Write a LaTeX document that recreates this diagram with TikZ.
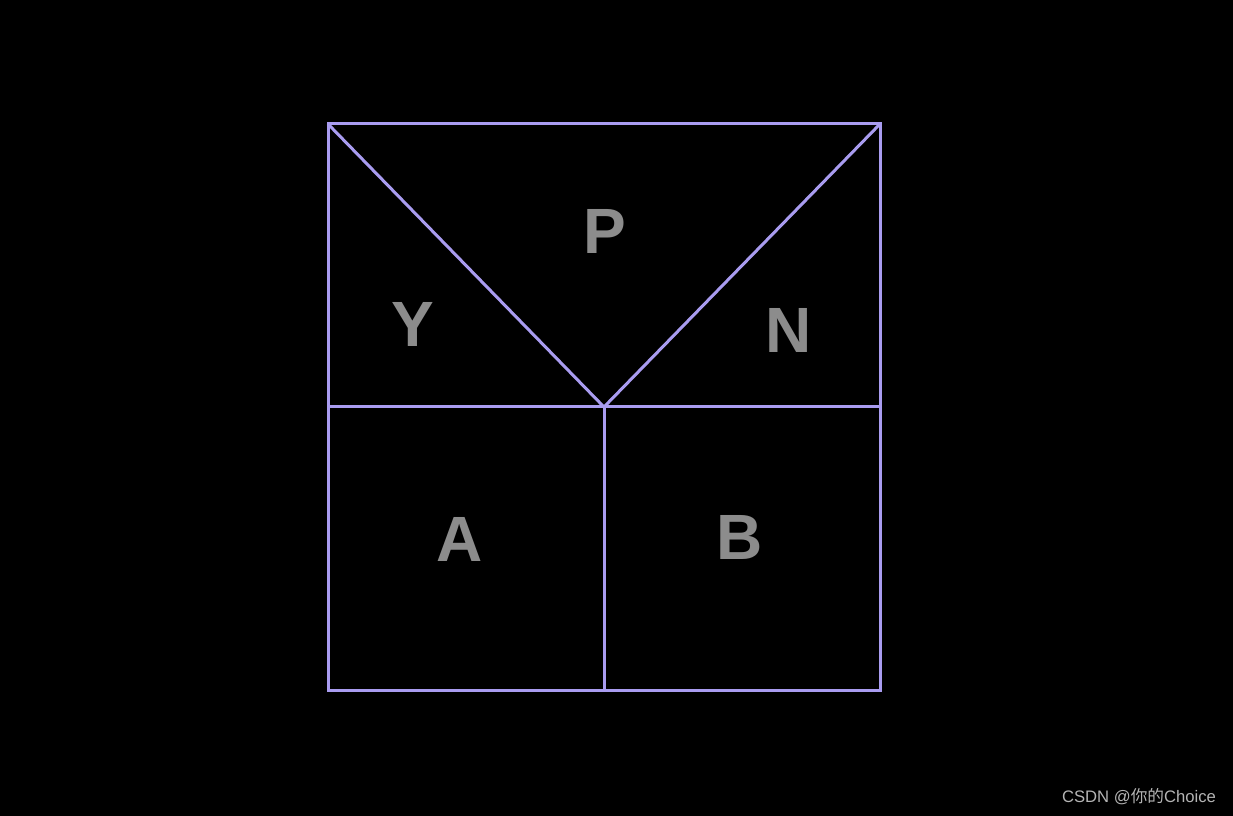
\documentclass[tikz,border=0pt]{standalone}
\usepackage{fontspec}
\setmainfont{Liberation Sans}
\newfontfamily\cjk{Noto Sans CJK SC}
\newfontfamily\letterfont{Liberation Sans}[UprightFont=*-Bold,BoldFont=*-Bold]
\definecolor{linecol}{HTML}{A99CF0}
\definecolor{lettercol}{HTML}{8C8C8C}
\definecolor{wmcol}{HTML}{B4B4B4}
\tikzset{every picture/.style={line width=2.25pt}}
\tikzset{
  letter/.style={text=lettercol, inner sep=0.75pt, font=\letterfont\fontsize{48}{48}\selectfont},
  watermark/.style={text=wmcol, inner sep=0.75pt, font=\fontsize{12.5}{12.5}\selectfont}
}

\begin{document}
\begin{tikzpicture}[x=0.75pt,y=0.75pt,yscale=-1,xscale=1]
% background
\fill[black] (0,0) rectangle (1233,816);
\useasboundingbox (0,0) rectangle (1233,816);

\coordinate (tl) at (328,124);
\coordinate (tr) at (880,124);
\coordinate (bl) at (328,691);
\coordinate (br) at (880,691);
\coordinate (ml) at (328,407);
\coordinate (mr) at (880,407);
\coordinate (mc) at (604,407);
\coordinate (bc) at (604,691);

%Shape: Square
\draw[linecol, line join=miter] (tl) -- (tr) -- (br) -- (bl) -- cycle ;
%Shape: Lines
\draw[linecol] (ml) -- (mr) ;
\draw[linecol] (mc) -- (bc) ;
\draw[linecol, line join=miter] (tl) -- (mc) -- (tr) ;

% Text Node
\node[letter] (p) at (605,231) {P};
% Text Node
\node[letter] (y) at (413,324) {Y};
% Text Node
\node[letter] (n) at (789,330) {N};
% Text Node
\node[letter] (a) at (460,539) {A};
% Text Node
\node[letter] (b) at (740,537) {B};
% Text Node
\node[watermark] (wm) at (1139,797) {CSDN @{\cjk 你的}Choice};

\end{tikzpicture}
\end{document}
